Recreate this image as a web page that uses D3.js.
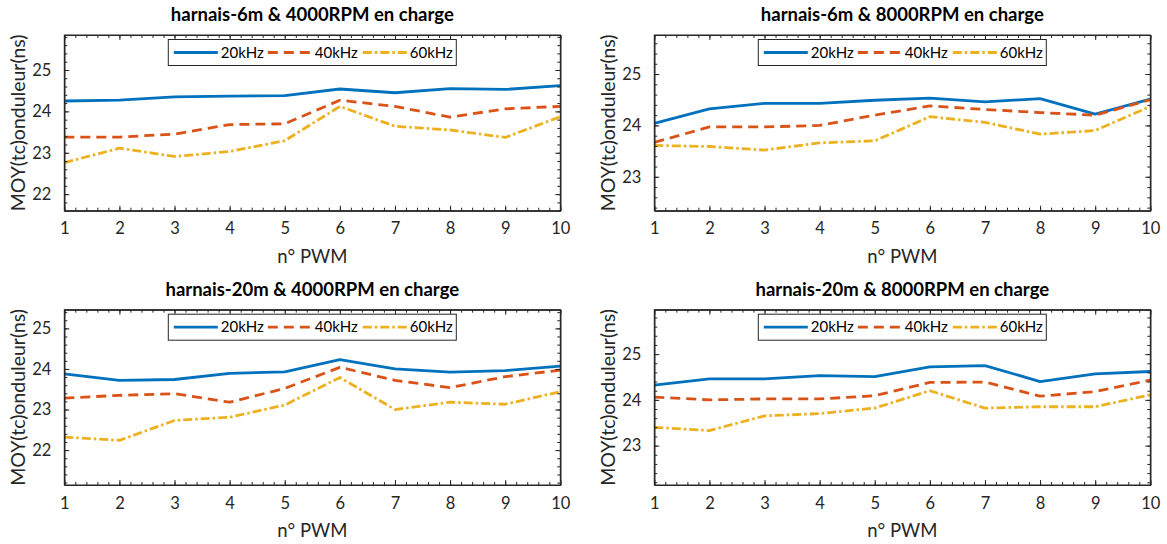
<!DOCTYPE html>
<html>
<head>
<meta charset="utf-8">
<script src="https://cdn.jsdelivr.net/npm/d3@7"></script>
<style>
  html, body { margin: 0; padding: 0; background: #fff; }
  svg { display: block; font-family: Lato, "Open Sans", sans-serif; }
</style>
</head>
<body>
<svg id="chart" width="1167" height="544"></svg>
<script>
// ---------- data ----------
const pwm = [1, 2, 3, 4, 5, 6, 7, 8, 9, 10];
const seriesNames = ["20kHz", "40kHz", "60kHz"];
const xTicks = [1, 2, 3, 4, 5, 6, 7, 8, 9, 10];

const titles = [
  "harnais-6m & 4000RPM en charge",
  "harnais-6m & 8000RPM en charge",
  "harnais-20m & 4000RPM en charge",
  "harnais-20m & 8000RPM en charge"
];

// panel 1 : harnais-6m 4000RPM
const h6_4000_20k = [24.25, 24.27, 24.35, 24.37, 24.38, 24.54, 24.45, 24.55, 24.53, 24.62];
const h6_4000_40k = [23.38, 23.38, 23.45, 23.68, 23.70, 24.27, 24.12, 23.86, 24.06, 24.12];
const h6_4000_60k = [22.76, 23.11, 22.91, 23.03, 23.29, 24.12, 23.64, 23.55, 23.37, 23.87];
// panel 2 : harnais-6m 8000RPM
const h6_8000_20k = [24.04, 24.32, 24.43, 24.43, 24.49, 24.53, 24.46, 24.52, 24.22, 24.51];
const h6_8000_40k = [23.67, 23.97, 23.97, 24.00, 24.20, 24.38, 24.31, 24.25, 24.20, 24.50];
const h6_8000_60k = [23.61, 23.59, 23.52, 23.66, 23.70, 24.17, 24.06, 23.83, 23.90, 24.37];
// panel 3 : harnais-20m 4000RPM
const h20_4000_20k = [23.88, 23.72, 23.74, 23.89, 23.93, 24.23, 24.00, 23.92, 23.96, 24.07];
const h20_4000_40k = [23.28, 23.35, 23.39, 23.18, 23.52, 24.04, 23.72, 23.54, 23.81, 23.97];
const h20_4000_60k = [22.32, 22.24, 22.73, 22.81, 23.11, 23.79, 23.00, 23.18, 23.13, 23.44];
// panel 4 : harnais-20m 8000RPM
const h20_8000_20k = [24.32, 24.46, 24.46, 24.53, 24.51, 24.72, 24.75, 24.40, 24.57, 24.62];
const h20_8000_40k = [24.06, 24.00, 24.02, 24.02, 24.09, 24.38, 24.39, 24.08, 24.18, 24.43];
const h20_8000_60k = [23.40, 23.33, 23.65, 23.70, 23.82, 24.20, 23.82, 23.85, 23.85, 24.11];

const yDomains = [[21.60, 25.845], [22.34, 25.76], [21.14, 25.46], [22.14, 25.97]];
const yTicksList = [[22, 23, 24, 25], [23, 24, 25], [22, 23, 24, 25], [23, 24, 25]];

const xLabel = "n° PWM";
const yLabel = "MOY(tc)onduleur(ns)";

// ---------- styles ----------
const colors = ["#0072BD", "#D95319", "#EDB120"];
const dashes = [null, "10,6", "9,3,2.5,3"];
const axisColor = "#262626";

const panels = [
  { title: titles[0], series: [h6_4000_20k, h6_4000_40k, h6_4000_60k], yDom: yDomains[0], yTicks: yTicksList[0], x0: 64.3, x1: 560.3, y0: 35, y1: 210.7 },
  { title: titles[1], series: [h6_8000_20k, h6_8000_40k, h6_8000_60k], yDom: yDomains[1], yTicks: yTicksList[1], x0: 654.3, x1: 1150.3, y0: 35, y1: 210.7 },
  { title: titles[2], series: [h20_4000_20k, h20_4000_40k, h20_4000_60k], yDom: yDomains[2], yTicks: yTicksList[2], x0: 64.3, x1: 560.3, y0: 309.7, y1: 485 },
  { title: titles[3], series: [h20_8000_20k, h20_8000_40k, h20_8000_60k], yDom: yDomains[3], yTicks: yTicksList[3], x0: 654.3, x1: 1150.3, y0: 309.7, y1: 485 }
];

const svg = d3.select("#chart");

panels.forEach((p, pi) => {
  const g = svg.append("g");
  const x = d3.scaleLinear().domain([1, 10]).range([p.x0, p.x1]);
  const y = d3.scaleLinear().domain(p.yDom).range([p.y1, p.y0]);
  const w = p.x1 - p.x0, h = p.y1 - p.y0;

  const clipId = "clip" + pi;
  g.append("clipPath").attr("id", clipId).append("rect")
    .attr("x", p.x0).attr("y", p.y0).attr("width", w).attr("height", h);

  const xMinor = d3.range(1, 10.001, 0.2).map(v => +v.toFixed(2));
  const yStart = Math.ceil(p.yDom[0] * 5) / 5;
  const yMinor = d3.range(yStart, p.yDom[1] + 1e-6, 0.2).map(v => +v.toFixed(2));

  const line = d3.line().x((d, i) => x(pwm[i])).y(d => y(d));
  p.series.forEach((s, si) => {
    g.append("path")
      .datum(s)
      .attr("clip-path", `url(#${clipId})`)
      .attr("d", line)
      .attr("fill", "none")
      .attr("stroke", colors[si])
      .attr("stroke-width", 2.8)
      .attr("stroke-linejoin", "round")
      .attr("stroke-dasharray", dashes[si]);
  });

  const bottomAxis = d3.axisBottom(x).tickValues(xTicks).tickFormat(d3.format("d")).tickSizeInner(-5).tickSizeOuter(0).tickPadding(12);
  const topAxis = d3.axisTop(x).tickValues(xTicks).tickFormat("").tickSizeInner(-5).tickSizeOuter(0);
  const leftAxis = d3.axisLeft(y).tickValues(p.yTicks).tickFormat(d3.format("d")).tickSizeInner(-5).tickSizeOuter(0).tickPadding(13);
  const rightAxis = d3.axisRight(y).tickValues(p.yTicks).tickFormat("").tickSizeInner(-5).tickSizeOuter(0);

  const minorB = d3.axisBottom(x).tickValues(xMinor).tickFormat("").tickSizeInner(-3).tickSizeOuter(0);
  const minorT = d3.axisTop(x).tickValues(xMinor).tickFormat("").tickSizeInner(-3).tickSizeOuter(0);
  const minorL = d3.axisLeft(y).tickValues(yMinor).tickFormat("").tickSizeInner(-3).tickSizeOuter(0);
  const minorR = d3.axisRight(y).tickValues(yMinor).tickFormat("").tickSizeInner(-3).tickSizeOuter(0);

  const axes = [
    [bottomAxis, `translate(0,${p.y1})`], [topAxis, `translate(0,${p.y0})`],
    [leftAxis, `translate(${p.x0},0)`], [rightAxis, `translate(${p.x1},0)`],
    [minorB, `translate(0,${p.y1})`], [minorT, `translate(0,${p.y0})`],
    [minorL, `translate(${p.x0},0)`], [minorR, `translate(${p.x1},0)`]
  ];
  axes.forEach(([ax, tr]) => {
    const a = g.append("g").attr("transform", tr).call(ax);
    a.selectAll("path.domain").attr("stroke", axisColor).attr("stroke-width", 1);
    a.selectAll(".tick line").attr("stroke", axisColor).attr("stroke-width", 1);
    a.selectAll(".tick text").attr("fill", axisColor).attr("font-size", 16.5)
      .attr("font-family", "Lato, sans-serif");
  });

  g.append("rect").attr("x", p.x0).attr("y", p.y0).attr("width", w).attr("height", h)
    .attr("fill", "none").attr("stroke", axisColor).attr("stroke-width", 1);

  g.append("text")
    .attr("x", (p.x0 + p.x1) / 2).attr("y", p.y0 - 14)
    .attr("text-anchor", "middle").attr("font-weight", "bold")
    .attr("font-size", 18.5).attr("fill", "#000")
    .text(p.title);

  g.append("text")
    .attr("x", (p.x0 + p.x1) / 2).attr("y", p.y1 + 52)
    .attr("text-anchor", "middle").attr("font-size", 18.5).attr("fill", axisColor)
    .text(xLabel);

  g.append("text")
    .attr("transform", `translate(${p.x0 - 39},${(p.y0 + p.y1) / 2}) rotate(-90)`)
    .attr("text-anchor", "middle").attr("font-size", 19.5).attr("fill", axisColor)
    .text(yLabel);

  const lgW = 288, lgH = 26;
  const lgX = (p.x0 + p.x1) / 2 - lgW / 2, lgY = p.y0 + 4.5;
  const lg = g.append("g");
  lg.append("rect").attr("x", lgX).attr("y", lgY).attr("width", lgW).attr("height", lgH)
    .attr("fill", "#fff").attr("stroke", axisColor).attr("stroke-width", 1);
  const itemOffsets = [5.5, 99.5, 194.5];
  seriesNames.forEach((name, si) => {
    const ix = lgX + itemOffsets[si];
    const iy = lgY + lgH / 2;
    lg.append("line").attr("x1", ix).attr("x2", ix + 44).attr("y1", iy).attr("y2", iy)
      .attr("stroke", colors[si]).attr("stroke-width", 2.8)
      .attr("stroke-dasharray", dashes[si]);
    lg.append("text").attr("x", ix + 47).attr("y", iy + 5)
      .attr("font-size", 15).attr("fill", "#000").text(name);
  });
});
</script>
</body>
</html>
